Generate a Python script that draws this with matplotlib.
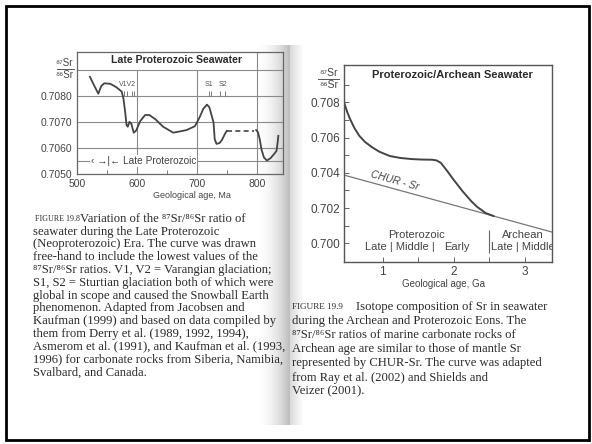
import numpy as np
import matplotlib
matplotlib.use("Agg")
import matplotlib.pyplot as plt

W, H = 592, 444

# ---- Late Proterozoic seawater (age in Ma, 87Sr/86Sr) ----
lp_age = [521, 528, 535, 540, 545, 555, 565, 574, 577, 580, 582, 584, 587, 590,
          594, 598, 605, 613, 620, 630, 643, 660, 682, 696, 704, 710, 716, 720,
          724, 727, 729, 732, 737, 741, 746, 749]
lp_sr = [0.70875, 0.70842, 0.70810, 0.70840, 0.70850, 0.70848, 0.70835, 0.70818,
         0.70790, 0.70735, 0.70690, 0.70683, 0.70702, 0.70695, 0.70660, 0.70668,
         0.70705, 0.70728, 0.70728, 0.70712, 0.70683, 0.70660, 0.70670, 0.70685,
         0.70720, 0.70752, 0.70768, 0.70758, 0.70725, 0.70700, 0.70635, 0.70617,
         0.70620, 0.70632, 0.70655, 0.70667]
lp_gap_age = [749, 795]
lp_gap_sr = [0.70667, 0.70667]
lp_tail_age = [798, 801, 804, 807, 811, 816, 822, 828, 832, 834, 835]
lp_tail_sr = [0.70670, 0.70662, 0.70635, 0.70595, 0.70565, 0.70553, 0.70562,
              0.70578, 0.70590, 0.70625, 0.70648]
glac_labels = ["V1V2", "S1", "S2"]
glac_label_age = [584, 719, 743]
glac_marks = [578, 582, 591, 594.5, 719.5, 722, 738, 746]
lp_xticks = [500, 600, 700, 800]
lp_yticks = [0.7050, 0.7060, 0.7070, 0.7080]

# ---- Proterozoic/Archean seawater (age in Ga) ----
pa_age = [0.455, 0.50, 0.54, 0.60, 0.67, 0.75, 0.85, 0.95, 1.10, 1.25, 1.40,
          1.55, 1.70, 1.76, 1.82, 1.90, 2.00, 2.13, 2.25, 2.33, 2.45, 2.56]
pa_sr = [0.70800, 0.70745, 0.70705, 0.70655, 0.70610, 0.70575, 0.70545, 0.70520,
         0.70495, 0.70484, 0.70478, 0.70475, 0.70474, 0.70470, 0.70456, 0.70415,
         0.70360, 0.70293, 0.70238, 0.70207, 0.70172, 0.70155]
chur_age = [0.455, 3.385]
chur_sr = [0.70387, 0.70064]
pa_yticks = [0.700, 0.702, 0.704, 0.706, 0.708]
pa_yminor = [0.701, 0.703, 0.705, 0.707, 0.709]
pa_xticks = [1, 2, 3]
pa_xminor = [1.5, 2.5]

caption_left = [
    "seawater during the Late Proterozoic",
    "(Neoproterozoic) Era. The curve was drawn",
    "free-hand to include the lowest values of the",
    "\u2078\u2077Sr/\u2078\u2076Sr ratios. V1, V2 = Varangian glaciation;",
    "S1, S2 = Sturtian glaciation both of which were",
    "global in scope and caused the Snowball Earth",
    "phenomenon. Adapted from Jacobsen and",
    "Kaufman (1999) and based on data compiled by",
    "them from Derry et al. (1989, 1992, 1994),",
    "Asmerom et al. (1991), and Kaufman et al. (1993,",
    "1996) for carbonate rocks from Siberia, Namibia,",
    "Svalbard, and Canada.",
]
caption_right = [
    "during the Archean and Proterozoic Eons. The",
    "\u2078\u2077Sr/\u2078\u2076Sr ratios of marine carbonate rocks of",
    "Archean age are similar to those of mantle Sr",
    "represented by CHUR-Sr. The curve was adapted",
    "from Ray et al. (2002) and Shields and",
    "Veizer (2001).",
]

SANS = ["Liberation Sans", "DejaVu Sans"]
SERIF = ["Liberation Serif", "DejaVu Serif"]
plt.rcParams["font.family"] = SANS
TXT = "#2b2b2b"
LINE = "#444444"
GRID = "#8a8a8a"

fig = plt.figure(figsize=(W / 100, H / 100), dpi=100)
fig.patch.set_facecolor("white")

# pixel-coordinate background layer
bg = fig.add_axes([0, 0, 1, 1], zorder=-10)
bg.axis("off")

# page fold shadow
xs = np.arange(255, 304)
shade = np.where(xs < 290, ((xs - 255) / 35.0) ** 2 * 0.42,
                 np.clip(0.22 * (1 - (xs - 290) / 13.0), 0, 1))
img = np.ones((1, len(xs), 4))
img[..., :3] = 0.35
img[0, :, 3] = shade
bg.imshow(img, extent=[255, 304, 425, 46], aspect="auto", interpolation="bilinear")
bg.set_xlim(0, W)
bg.set_ylim(H, 0)

# slide frame
bg.add_patch(plt.Rectangle((6, 6), 583, 434, fill=False, ec="black", lw=2))

# ---------------- left chart ----------------
ax1 = fig.add_axes([77.3 / W, 1 - 174.3 / H, (283 - 77.3) / W, (174.3 - 51.7) / H])
ax1.set_facecolor("none")
ax1.set_xlim(500, 842.8)
ax1.set_ylim(0.7050, 0.709715)
for v in lp_yticks[1:] + [0.7090]:
    ax1.axhline(v, color=GRID, lw=0.8, zorder=1)
ax1.axhline(0.7055, color=GRID, lw=0.8, zorder=1)
ax1.vlines(lp_xticks[1:3], 0.7050, 0.7090, color=GRID, lw=0.8, zorder=1)
ax1.axvline(lp_xticks[3], color=GRID, lw=0.8, zorder=1)
for s in ax1.spines.values():
    s.set_color("#666666")
    s.set_linewidth(0.9)

ax1.plot(lp_age, lp_sr, color=LINE, lw=1.3, zorder=3)
ax1.plot(lp_gap_age, lp_gap_sr, color=LINE, lw=1.2, dashes=(3, 2), zorder=3)
ax1.plot(lp_tail_age, lp_tail_sr, color=LINE, lw=1.3, zorder=3)
ax1.vlines(glac_marks, 0.70801, 0.70820, color="#666666", lw=0.6, zorder=3)
for lab, a in zip(glac_labels, glac_label_age):
    ax1.text(a, 0.70845, lab, ha="center", va="center", fontsize=5, color="#555555")
ax1.text(664.5, 0.70940, "Late Proterozoic Seawater", ha="center", va="center",
         fontsize=7.6, fontweight="bold", color=TXT)
ax1.text(522, 0.7055, "\u2039 \u2192|\u2190 Late Proterozoic", ha="left", va="center",
         fontsize=7.3, color="#444444", zorder=4,
         bbox=dict(fc="white", ec="none", pad=0.6))

ax1.set_xticks(lp_xticks)
ax1.set_xticks([550, 650, 750], minor=True)
ax1.set_yticks(lp_yticks)
ax1.set_yticklabels([f"{v:.4f}" for v in lp_yticks])
ax1.tick_params(axis="both", which="major", length=0, labelsize=7.5, labelcolor="#444444")
ax1.tick_params(axis="x", which="major", pad=3.5)
ax1.tick_params(axis="y", which="major", pad=3.3)
ax1.tick_params(axis="x", which="minor", direction="in", length=3, width=0.6, color="#666666")

bg.text(73, 63.5, "\u2078\u2077Sr", ha="right", va="center", fontsize=7, color="#444444")
bg.plot([57, 74], [69, 69], color="#555555", lw=0.7)
bg.text(73, 75, "\u2078\u2076Sr", ha="right", va="center", fontsize=7, color="#444444")
bg.text(191.7, 195.7, "Geological age, Ma", ha="center", va="center", fontsize=6.5,
        color="#444444")

# ---------------- right chart ----------------
ax2 = fig.add_axes([344 / W, 1 - 261.7 / H, 208 / W, 196.7 / H])
ax2.set_facecolor("none")
ax2.set_xlim(0.455, 3.385)
ax2.set_ylim(0.69896, 0.71011)
for s in ax2.spines.values():
    s.set_color("#555555")
    s.set_linewidth(1.0)
ax2.plot(chur_age, chur_sr, color="#777777", lw=0.9)
ax2.plot(pa_age, pa_sr, color=LINE, lw=1.4)
ax2.text(1.17, 0.70356, "CHUR - Sr", rotation=-15.4, style="italic", ha="center",
         va="center", fontsize=7.5, color="#444444", rotation_mode="anchor")
ax2.text(1.98, 0.70955, "Proterozoic/Archean Seawater", ha="center", va="center",
         fontsize=8, fontweight="bold", color=TXT)
ax2.text(1.48, 0.70047, "Proterozoic", ha="center", va="center", fontsize=8, color="#444444")
ax2.text(1.24, 0.69977, "Late | Middle |", ha="center", va="center", fontsize=8,
         color="#444444")
ax2.text(2.04, 0.69977, "Early", ha="center", va="center", fontsize=8, color="#444444")
ax2.text(2.98, 0.70047, "Archean", ha="center", va="center", fontsize=8, color="#444444")
ax2.text(2.98, 0.69977, "Late | Middle", ha="center", va="center", fontsize=8,
         color="#444444", clip_on=True)
ax2.vlines(2.5, 0.69947, 0.70075, color="#666666", lw=0.8)

ax2.set_yticks(pa_yticks)
ax2.set_yticks(pa_yminor, minor=True)
ax2.set_yticklabels([f"{v:.3f}" for v in pa_yticks])
ax2.set_xticks(pa_xticks)
ax2.set_xticks(pa_xminor, minor=True)
ax2.tick_params(axis="both", which="both", direction="in", length=3.5, width=0.7,
                color="#666666", labelsize=8.5, labelcolor="#444444")
ax2.tick_params(axis="y", which="major", pad=2.5)
ax2.tick_params(axis="x", which="major", pad=3.0)

bg.text(338, 73.5, "\u2078\u2077Sr", ha="right", va="center", fontsize=7.5, color="#444444")
bg.plot([318, 339], [79, 79], color="#555555", lw=0.7)
bg.text(338, 84.5, "\u2078\u2076Sr", ha="right", va="center", fontsize=7.5, color="#444444")
bg.text(443, 284, "Geological age, Ga", ha="center", va="center", fontsize=7,
        color="#444444")

# ---------------- captions ----------------
bg.text(35, 218.5, "FIGURE 19.8", ha="left", va="center", fontsize=5.8, family=SERIF,
        color=TXT)
bg.text(80, 218.5, "Variation of the \u2078\u2077Sr/\u2078\u2076Sr ratio of", ha="left",
        va="center", fontsize=9.1, family=SERIF, color=TXT)
for i, line in enumerate(caption_left):
    bg.text(33, 231.5 + i * 12.8, line, ha="left", va="center", fontsize=9.1,
            family=SERIF, color=TXT)

bg.text(292, 306.5, "FIGURE 19.9", ha="left", va="center", fontsize=6.6, family=SERIF,
        color=TXT)
bg.text(356, 306.5, "Isotope composition of Sr in seawater", ha="left", va="center",
        fontsize=9.1, family=SERIF, color=TXT)
for i, line in enumerate(caption_right):
    bg.text(292, 320.7 + i * 14.2, line, ha="left", va="center", fontsize=9.1,
            family=SERIF, color=TXT)

fig.savefig("out.png", dpi=100, facecolor="white")
